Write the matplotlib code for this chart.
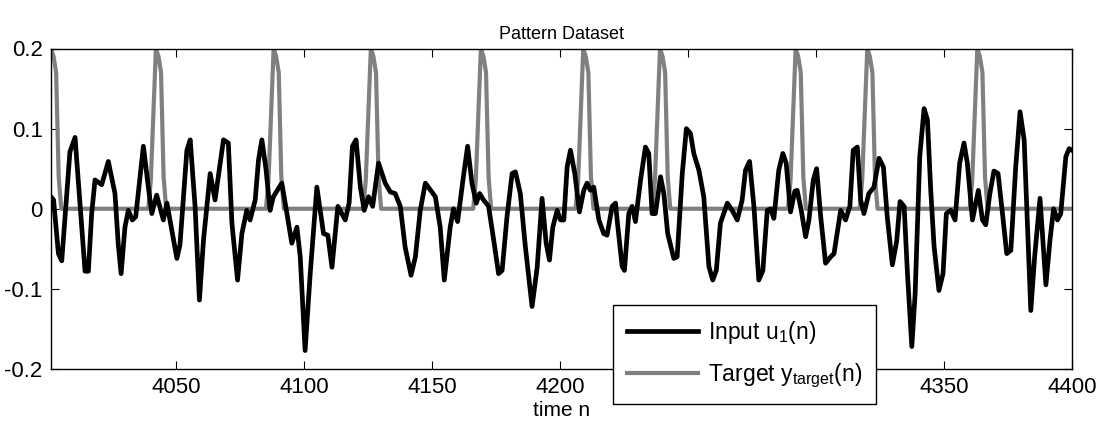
import matplotlib
matplotlib.use("Agg")
from matplotlib import pyplot as plt

# input signal u1(n) (time, value)
input_n = [4001.0, 4002.0, 4003.9, 4005.2, 4008.4, 4010.4, 4014.3, 4015.6, 4016.9, 4018.2,
           4020.8, 4023.4, 4026.0, 4027.3, 4028.4, 4029.9, 4031.2, 4032.8, 4034.1, 4037.1,
           4039.0, 4040.4, 4042.3, 4044.9, 4046.3, 4050.2, 4051.4, 4054.1, 4055.4, 4057.3,
           4059.0, 4060.6, 4063.2, 4065.1, 4068.4, 4070.3, 4071.7, 4073.9, 4075.6, 4077.5,
           4078.8, 4080.8, 4082.1, 4083.4, 4085.0, 4086.6, 4087.9, 4091.2, 4093.2, 4095.1,
           4097.1, 4098.4, 4100.3, 4102.3, 4104.9, 4107.5, 4109.2, 4110.8, 4113.1, 4116.0,
           4117.5, 4118.8, 4120.2, 4121.9, 4123.4, 4125.1, 4126.7, 4129.0, 4131.6, 4133.6,
           4135.5, 4137.5, 4139.4, 4141.7, 4143.4, 4145.3, 4147.3, 4151.2, 4153.1, 4154.7,
           4157.0, 4158.3, 4159.9, 4162.0, 4163.8, 4165.5, 4167.2, 4168.5, 4169.8, 4172.0,
           4174.0, 4175.9, 4177.3, 4179.2, 4181.2, 4182.5, 4184.4, 4186.4, 4189.0, 4191.0,
           4192.9, 4194.5, 4195.8, 4197.1, 4198.8, 4200.1, 4201.4, 4202.7, 4204.0, 4205.7,
           4207.5, 4209.2, 4210.5, 4211.8, 4213.1, 4215.1, 4217.0, 4218.3, 4220.3, 4221.6,
           4222.5, 4224.2, 4225.1, 4226.8, 4228.1, 4229.4, 4231.4, 4233.3, 4234.6, 4235.9,
           4237.2, 4239.2, 4240.5, 4242.0, 4244.4, 4245.7, 4247.7, 4249.3, 4250.9, 4252.2,
           4254.2, 4256.1, 4258.1, 4259.6, 4261.0, 4262.6, 4265.3, 4267.2, 4269.2, 4271.1,
           4272.4, 4274.0, 4275.7, 4277.6, 4279.2, 4280.9, 4282.2, 4283.5, 4285.4, 4287.0,
           4288.3, 4290.0, 4291.7, 4292.6, 4294.2, 4295.9, 4297.2, 4298.9, 4300.2, 4301.8,
           4303.7, 4305.7, 4307.0, 4309.6, 4311.5, 4313.2, 4314.5, 4316.1, 4317.4, 4318.7,
           4320.6, 4322.6, 4324.6, 4326.3, 4327.8, 4329.8, 4331.5, 4332.8, 4334.4, 4335.7,
           4337.4, 4338.7, 4340.5, 4342.2, 4343.5, 4344.8, 4346.1, 4348.0, 4349.6, 4350.9,
           4352.6, 4354.3, 4356.1, 4357.8, 4359.1, 4361.1, 4363.4, 4365.0, 4366.3, 4367.9,
           4369.5, 4371.1, 4372.8, 4374.5, 4376.1, 4378.0, 4379.7, 4381.3, 4382.6, 4383.9,
           4385.4, 4387.5, 4389.8, 4391.4, 4392.8, 4394.3, 4395.6, 4397.6, 4398.9, 4400.0]
input_u = [0.015, 0.011, -0.056, -0.065, 0.071, 0.089, -0.078, -0.078, -0.006, 0.036,
           0.030, 0.059, 0.019, -0.045, -0.081, -0.023, -0.002, -0.014, -0.010, 0.078,
           0.028, -0.006, 0.017, -0.014, 0.007, -0.062, -0.045, 0.073, 0.086, 0.003,
           -0.114, -0.039, 0.044, 0.011, 0.086, 0.082, -0.018, -0.089, -0.031, -0.002,
           -0.014, 0.011, 0.061, 0.086, 0.050, -0.002, 0.015, 0.032, -0.006, -0.043,
           -0.023, -0.060, -0.177, -0.081, 0.027, -0.031, -0.033, -0.073, 0.003, -0.014,
           0.007, 0.078, 0.086, 0.027, -0.002, 0.015, 0.003, 0.057, 0.032, 0.021,
           0.019, 0.003, -0.048, -0.083, -0.060, -0.002, 0.032, 0.015, -0.023, -0.089,
           -0.023, 0.000, -0.016, 0.036, 0.078, 0.032, 0.007, 0.019, 0.012, 0.003,
           -0.039, -0.081, -0.077, -0.010, 0.044, 0.046, 0.019, -0.048, -0.122, -0.073,
           0.013, -0.043, -0.064, -0.023, -0.002, -0.014, -0.014, 0.052, 0.073, 0.044,
           -0.004, 0.023, 0.032, 0.023, 0.027, -0.014, -0.031, -0.033, 0.003, 0.007,
           -0.022, -0.072, -0.077, -0.006, 0.003, -0.016, 0.036, 0.077, 0.069, -0.006,
           -0.006, 0.040, 0.019, -0.031, -0.062, -0.060, 0.044, 0.100, 0.094, 0.069,
           0.048, 0.015, -0.072, -0.089, -0.077, -0.018, 0.007, -0.002, -0.014, 0.011,
           0.048, 0.059, 0.003, -0.089, -0.077, -0.002, 0.000, -0.012, 0.048, 0.069,
           0.057, -0.004, 0.022, 0.023, -0.002, -0.035, -0.014, 0.036, 0.050, -0.010,
           -0.068, -0.060, -0.056, -0.002, -0.014, 0.003, 0.073, 0.077, 0.011, -0.006,
           0.019, 0.027, 0.063, 0.052, -0.010, -0.070, -0.040, 0.009, 0.003, -0.081,
           -0.172, -0.106, 0.065, 0.125, 0.111, 0.023, -0.047, -0.102, -0.081, -0.006,
           -0.002, -0.014, 0.057, 0.082, 0.057, -0.014, 0.023, -0.014, -0.020, 0.019,
           0.047, 0.044, -0.005, -0.056, -0.052, 0.052, 0.121, 0.086, -0.022, -0.127,
           -0.060, 0.013, -0.095, -0.039, 0.000, -0.014, -0.006, 0.065, 0.075, 0.073]

# target y_target(n): zero with short pulses, breakpoints
target_n = [4001, 4002, 4003, 4004, 4005,
            4039, 4040, 4042, 4043, 4044, 4045, 4046,
            4085, 4086, 4088, 4089, 4090, 4091, 4092,
            4123, 4124, 4126, 4127, 4128, 4129, 4130,
            4166, 4167, 4169, 4170, 4171, 4172, 4173,
            4206, 4207, 4209, 4210, 4211, 4212, 4213,
            4236, 4237, 4239, 4240, 4241, 4242, 4243,
            4289, 4290, 4292, 4293, 4294, 4295, 4296,
            4317, 4318, 4320, 4321, 4322, 4323, 4324,
            4360, 4361, 4363, 4364, 4365, 4366, 4367,
            4400]
target_y = [0.2, 0.19, 0.17, 0.04, 0.0,
            0.0, 0.035, 0.2, 0.19, 0.17, 0.04, 0.0,
            0.0, 0.035, 0.2, 0.19, 0.17, 0.04, 0.0,
            0.0, 0.035, 0.2, 0.19, 0.17, 0.04, 0.0,
            0.0, 0.035, 0.2, 0.19, 0.17, 0.04, 0.0,
            0.0, 0.035, 0.2, 0.19, 0.17, 0.04, 0.0,
            0.0, 0.035, 0.2, 0.19, 0.17, 0.04, 0.0,
            0.0, 0.035, 0.2, 0.19, 0.17, 0.04, 0.0,
            0.0, 0.035, 0.2, 0.19, 0.17, 0.04, 0.0,
            0.0, 0.035, 0.2, 0.19, 0.17, 0.04, 0.0,
            0.0]

xticks = [4050, 4100, 4150, 4200, 4250, 4300, 4350, 4400]
# 4250 and 4300 sit under the legend in the reference, so they show no label
xtick_labels = ["4050", "4100", "4150", "4200", "", "", "4350", "4400"]
yticks = [-0.2, -0.1, 0, 0.1, 0.2]
ytick_labels = ["-0.2", "-0.1", "0", "0.1", "0.2"]

plt.rcParams['font.family'] = ['Liberation Sans', 'DejaVu Sans']
plt.rcParams['mathtext.fontset'] = 'custom'
plt.rcParams['mathtext.rm'] = 'Liberation Sans'
plt.rcParams['mathtext.it'] = 'Liberation Sans:italic'

W, H = 1103, 430
fig = plt.figure(figsize=(W / 100, H / 100), dpi=100)
ax = fig.add_axes([51 / W, 1 - 369 / H, (1072 - 51) / W, (369 - 48.5) / H])

ax.plot(input_n, input_u, color='black', lw=3.4, zorder=3,
        solid_joinstyle='round', label='Input u$_1$(n)')
ax.plot(target_n, target_y, color='#808080', lw=3.0, zorder=2,
        solid_joinstyle='round', label='Target y$_{\\mathrm{target}}$(n)')

ax.set_xlim(4001, 4400)
ax.set_ylim(-0.2, 0.2)
ax.set_xticks(xticks)
ax.set_xticklabels(xtick_labels)
ax.set_yticks(yticks)
ax.set_yticklabels(ytick_labels)
ax.tick_params(direction='in', length=6, width=0.8, top=True, right=True,
               labelsize=16, pad=6)
for sp in ax.spines.values():
    sp.set_linewidth(1.0)

ax.set_title('Pattern Dataset', fontsize=13, pad=7)
ax.set_xlabel('time n', fontsize=15, labelpad=2)

leg = ax.legend(loc='upper left', bbox_to_anchor=(613 / W, 1 - 305 / H),
                bbox_transform=fig.transFigure, fontsize=16.5, fancybox=False,
                framealpha=1, edgecolor='black', handlelength=3.1,
                handletextpad=0.45, labelspacing=0.7, borderpad=0.6,
                borderaxespad=0)
leg.get_frame().set_linewidth(1.0)

fig.savefig('out.png', dpi=100)
